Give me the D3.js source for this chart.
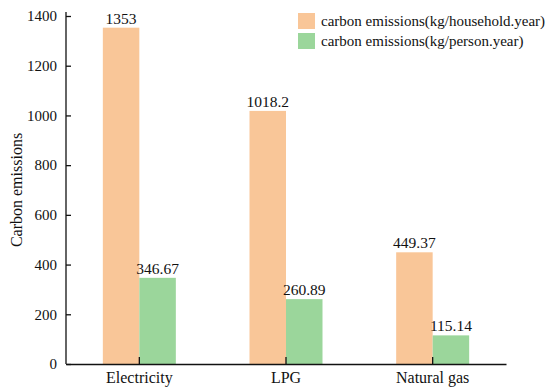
<!DOCTYPE html>
<html><head><meta charset="utf-8">
<script src="https://cdn.jsdelivr.net/npm/d3@7"></script>
<style>body{margin:0;background:#fff}svg{display:block}text{font-family:"Liberation Serif","Times New Roman",serif;fill:#111}</style>
</head><body><svg id="c" width="550" height="389"></svg>
<script>
const categories = ["Electricity", "LPG", "Natural gas"];
const seriesNames = ["carbon emissions(kg/household.year)", "carbon emissions(kg/person.year)"];
const household = [1353, 1018.2, 449.37];
const person = [346.67, 260.89, 115.14];
const valueLabels = [["1353", "1018.2", "449.37"], ["346.67", "260.89", "115.14"]];
const yTicks = [0, 200, 400, 600, 800, 1000, 1200, 1400];
const colors = ["#F9C698", "#9BD69B"];

const svg = d3.select("#c");
const L = 66, R = 506, T = 16, B = 364;
const x = d3.scaleBand().domain(categories).range([L, R]);
const y = d3.scaleLinear().domain([0, 1400]).range([B, T]);
const bw = 36.5;
const series = [household, person];

series.forEach((vals, si) => {
  svg.append("g").selectAll("rect").data(vals).join("rect")
    .attr("x", (d, i) => x(categories[i]) + x.bandwidth() / 2 + (si === 0 ? -bw : 0))
    .attr("width", bw)
    .attr("y", d => y(d))
    .attr("height", d => B - y(d))
    .attr("fill", colors[si]);
  svg.append("g").selectAll("text").data(vals).join("text")
    .attr("x", (d, i) => x(categories[i]) + x.bandwidth() / 2 + (si === 0 ? -bw / 2 : bw / 2))
    .attr("y", d => y(d) - 4)
    .attr("text-anchor", "middle")
    .style("font-size", "15.5px")
    .text((d, i) => valueLabels[si][i]);
});

// Y axis
const ya = svg.append("g").attr("transform", `translate(${L},0)`)
  .call(d3.axisLeft(y).tickValues(yTicks).tickFormat(d3.format("d")).tickSizeInner(-5).tickSizeOuter(0).tickPadding(9));
ya.select(".domain").attr("d", `M0,${B}V${T - 4}`).attr("stroke", "#111").attr("stroke-width", 1.3);
ya.selectAll(".tick line").attr("stroke", "#111").attr("stroke-width", 1.3);
ya.selectAll(".tick text").style("font-size", "15px").style("font-family", "Liberation Serif").attr("fill", "#222");

// X axis
const xa = svg.append("g").attr("transform", `translate(0,${B})`)
  .call(d3.axisBottom(x).tickSizeInner(-7).tickSizeOuter(0).tickPadding(8));
xa.select(".domain").attr("stroke", "#111").attr("stroke-width", 1.3);
xa.selectAll(".tick line").attr("stroke", "#111").attr("stroke-width", 1.3);
xa.selectAll(".tick text").style("font-size", "16px").style("font-family", "Liberation Serif").attr("fill", "#111");

// Y title
svg.append("text").attr("transform", `translate(22,${(T + B) / 2}) rotate(-90)`)
  .attr("text-anchor", "middle").style("font-size", "16px").text("Carbon emissions");

// Legend
const lg = svg.append("g").attr("transform", "translate(298,13)");
seriesNames.forEach((n, i) => {
  lg.append("rect").attr("x", 0).attr("y", i * 20).attr("width", 17).attr("height", 16).attr("fill", colors[i]);
  lg.append("text").attr("x", 23).attr("y", i * 20 + 13).style("font-size", "15px").text(n);
});
</script></body></html>
